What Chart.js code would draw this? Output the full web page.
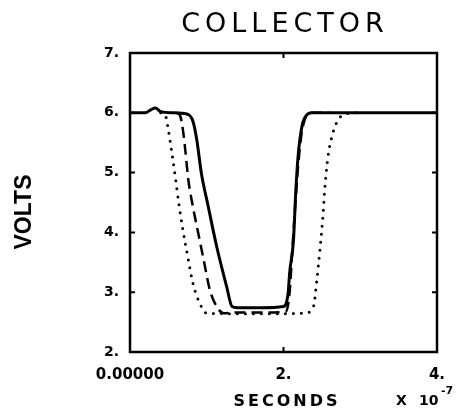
<!DOCTYPE html>
<html>
<head>
<meta charset="utf-8">
<script src="https://cdn.jsdelivr.net/npm/chart.js@4.4.0/dist/chart.umd.min.js"></script>
<style>
    html, body { margin: 0; padding: 0; background: #fff; }
</style>
</head>
<body>
<canvas id="myChart" width="470" height="415"></canvas>
<script>
// time in units of 1e-7 s, volts
const solidT = [0, 0.2, 0.27, 0.33, 0.4, 0.55, 0.74, 0.82, 0.87, 0.93, 1.02, 1.13, 1.26, 1.33, 1.4, 1.7, 2.0, 2.06, 2.08, 2.13, 2.16, 2.19, 2.24, 2.30, 2.37, 3.0, 4.0];
const solidV = [6.0, 6.0, 6.05, 6.08, 6.02, 6.0, 5.98, 5.86, 5.55, 4.99, 4.43, 3.76, 3.09, 2.76, 2.74, 2.74, 2.76, 2.98, 3.32, 3.87, 4.68, 5.27, 5.77, 5.96, 6.0, 6.0, 6.0];

const dashT = [0.6, 0.65, 0.69, 0.72, 0.76, 0.82, 0.89, 0.96, 1.04, 1.13, 1.22, 1.4, 1.7, 2.03, 2.08, 2.11, 2.15, 2.19, 2.23, 2.28, 2.35, 2.6];
const dashV = [6.0, 5.96, 5.71, 5.38, 4.88, 4.43, 3.98, 3.54, 3.04, 2.76, 2.65, 2.66, 2.66, 2.67, 3.0, 3.6, 4.4, 5.1, 5.6, 5.9, 6.0, 6.0];

const dotT = [0.4, 0.46, 0.50, 0.54, 0.59, 0.63, 0.69, 0.76, 0.82, 0.91, 1.0, 1.5, 2.0, 2.28, 2.39, 2.43, 2.47, 2.51, 2.54, 2.58, 2.63, 2.71, 2.82, 2.95];
const dotV = [6.0, 5.96, 5.71, 5.38, 4.93, 4.54, 4.04, 3.54, 3.15, 2.81, 2.65, 2.64, 2.64, 2.65, 2.76, 3.15, 3.65, 4.21, 4.76, 5.27, 5.60, 5.88, 5.98, 6.0];

const xTicks = [0, 2, 4];
const yTicks = [2, 3, 4, 5, 6, 7];

function pts(t, v) {
    return t.map((x, i) => ({ x: x, y: v[i] }));
}

const frameText = {
    id: 'frameText',
    afterDraw(chart) {
        const { ctx, chartArea: a } = chart;
        const x = chart.scales.x, y = chart.scales.y;
        ctx.save();
        ctx.strokeStyle = '#000';
        ctx.lineWidth = 2.5;
        ctx.strokeRect(a.left, a.top, a.right - a.left, a.bottom - a.top);

        // small inward ticks
        ctx.lineWidth = 2;
        ctx.beginPath();
        yTicks.forEach(v => {
            const py = y.getPixelForValue(v);
            ctx.moveTo(a.left, py); ctx.lineTo(a.left + 5, py);
            ctx.moveTo(a.right, py); ctx.lineTo(a.right - 5, py);
        });
        xTicks.forEach(v => {
            const px = x.getPixelForValue(v);
            ctx.moveTo(px, a.top); ctx.lineTo(px, a.top + 5);
            ctx.moveTo(px, a.bottom); ctx.lineTo(px, a.bottom - 5);
        });
        ctx.stroke();

        ctx.fillStyle = '#000';
        ctx.textAlign = 'center';
        ctx.textBaseline = 'alphabetic';

        ctx.font = '27px "DejaVu Sans"';
        ctx.letterSpacing = '5px';
        ctx.fillText('COLLECTOR', 285, 32);

        ctx.font = 'bold 16px "DejaVu Sans"';
        ctx.letterSpacing = '3px';
        ctx.fillText('SECONDS', 287, 406);

        ctx.letterSpacing = '0px';
        ctx.textAlign = 'left';
        ctx.font = 'bold 14px "DejaVu Sans"';
        ctx.fillText('X', 396, 405);
        ctx.fillText('10', 419, 405);
        ctx.font = 'bold 11px "DejaVu Sans"';
        ctx.fillText('-7', 441, 394);

        ctx.translate(25, 212);
        ctx.rotate(-Math.PI / 2);
        ctx.textAlign = 'center';
        ctx.textBaseline = 'middle';
        ctx.font = 'bold 23px "Liberation Sans"';
        ctx.fillText('VOLTS', 0, 0);
        ctx.restore();
    }
};

const ctx = document.getElementById('myChart').getContext('2d');
const myChart = new Chart(ctx, {
    type: 'line',
    data: {
        datasets: [{
            data: pts(dotT, dotV),
            borderColor: '#000',
            borderWidth: 3,
            borderDash: [0, 8],
            borderCapStyle: 'round'
        }, {
            data: pts(dashT, dashV),
            borderColor: '#000',
            borderWidth: 2.5,
            borderDash: [11, 6]
        }, {
            data: pts(solidT, solidV),
            borderColor: '#000',
            borderWidth: 3
        }]
    },
    options: {
        responsive: false,
        animation: false,
        layout: { padding: { top: 53, right: 33, left: 0, bottom: 0 } },
        elements: {
            point: { radius: 0 },
            line: { cubicInterpolationMode: 'monotone', fill: false }
        },
        plugins: {
            legend: { display: false },
            tooltip: { enabled: false }
        },
        scales: {
            x: {
                type: 'linear',
                min: 0,
                max: 4,
                afterFit: s => { s.height = 63; },
                afterBuildTicks: s => { s.ticks = xTicks.map(v => ({ value: v })); },
                grid: { display: false, drawTicks: false },
                border: { display: false },
                ticks: {
                    color: '#000',
                    padding: 14,
                    maxRotation: 0,
                    font: { family: 'DejaVu Sans', size: 15, weight: 'bold' },
                    callback: v => v === 0 ? '0.00000' : v + '.'
                }
            },
            y: {
                min: 2,
                max: 7,
                afterFit: s => { s.width = 130; },
                afterBuildTicks: s => { s.ticks = yTicks.map(v => ({ value: v })); },
                grid: { display: false, drawTicks: false },
                border: { display: false },
                ticks: {
                    color: '#000',
                    padding: 11,
                    font: { family: 'DejaVu Sans', size: 14, weight: 'bold' },
                    callback: v => v + '.'
                }
            }
        }
    },
    plugins: [frameText]
});
</script>
</body>
</html>
